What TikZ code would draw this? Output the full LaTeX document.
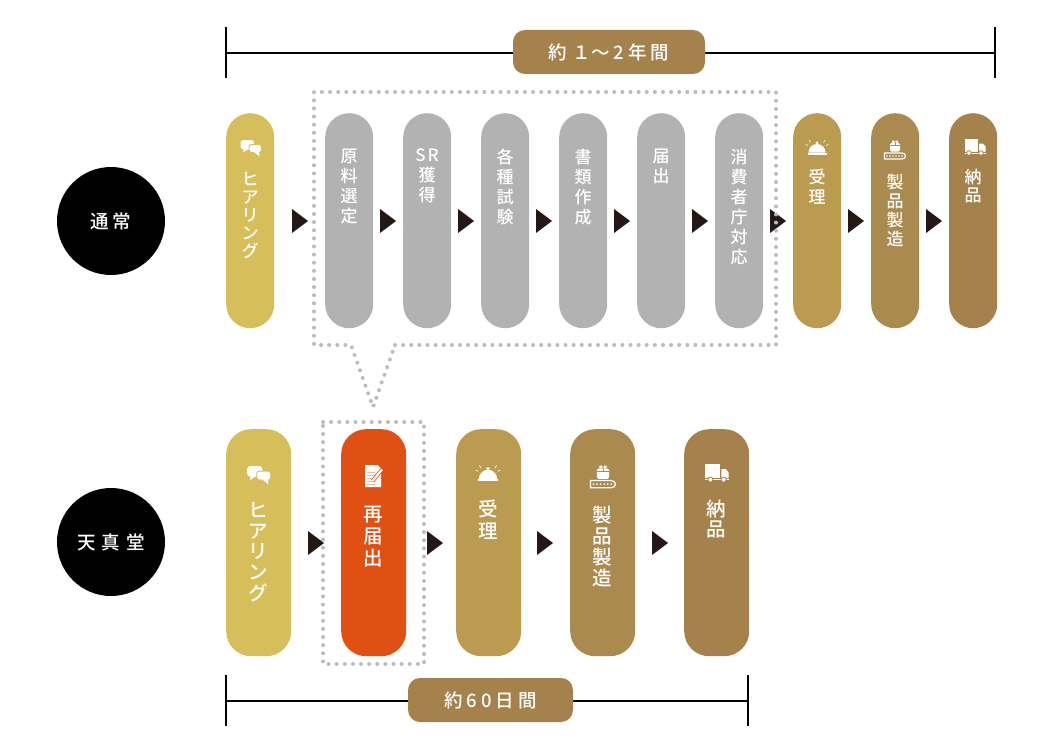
\documentclass[tikz,border=0pt]{standalone}
\usepackage{fontspec}
\newfontfamily\cjk{Noto Sans CJK JP Medium}
\usetikzlibrary{calc}
\definecolor{cyellow}{HTML}{D6BE5A}
\definecolor{cgray}{HTML}{B2B2B2}
\definecolor{caccept}{HTML}{BB9B50}
\definecolor{cmake}{HTML}{AA8A4E}
\definecolor{cdeliv}{HTML}{A5824C}
\definecolor{corange}{HTML}{E05012}
\definecolor{cdot}{HTML}{BCBCBC}
\definecolor{carrow}{HTML}{231815}
\definecolor{cnote}{HTML}{F6B99C}
\tikzset{
 pill/.style={rectangle,inner sep=0pt,anchor=north west,draw=none},
 toppill/.style={pill,minimum width=48pt,minimum height=215pt,rounded corners=24pt},
 botpill/.style={pill,minimum width=65pt,minimum height=227pt,rounded corners=25pt},
 toptext/.style={text=white,inner sep=0pt,anchor=north,align=center,font=\cjk\fontsize{17}{#1}\selectfont},
 bottext/.style={text=white,inner sep=0pt,anchor=north,align=center,font=\cjk\fontsize{19.5}{#1}\selectfont},
 arrowtri/.style={fill=carrow,draw=none},
 dotline/.style={draw=cdot,line width=4pt,line cap=round,dash pattern=on 0pt off 8.12pt},
 barline/.style={draw=black,line width=2.8pt},
 tagbox/.style={fill=cdeliv,rounded corners=12pt,inner sep=0pt,text=white,font=\cjk\fontsize{18.5}{20}\selectfont},
 circ/.style={circle,fill=black,minimum size=108pt,inner sep=0pt,text=white,font=\cjk\fontsize{18.5}{20}\selectfont},
}
\newcommand{\tri}[2]{\fill[arrowtri] (#1,#2-12) -- (#1+16,#2) -- (#1,#2+12) -- cycle;}
\newcommand{\spc}[1]{\hspace{#1pt}}
\newcommand{\iconchat}[4]{\begin{scope}[shift={(#1,#2)},scale=#3]
 \fill[white,rounded corners=3pt] (-10.5,-8) rectangle (3,1.5);
 \fill[white] (-7,0) -- (-8,4.5) -- (-2.5,1) -- cycle;
 \fill[white,draw=#4,line width=.9pt,rounded corners=2.5pt] (-2,-3.5) rectangle (10.5,4.5);
 \fill[white] (3,4) -- (8.5,8.5) -- (8,3.5) -- cycle;
\end{scope}}
\newcommand{\iconbell}[3]{\begin{scope}[shift={(#1,#2)},scale=#3]
 \fill[white] (-8.5,4.5) arc[start angle=180,end angle=360,radius=8.5] -- cycle;
 \fill[white] (0,-5) circle (1.6);
 \fill[white] (-9.5,4.8) rectangle (9.5,7);
 \draw[white,line width=.6pt] (-8,-8) -- (-6.5,-5.5) (8,-8) -- (6.5,-5.5) (-11.5,-3.5) -- (-9,-2.5) (11.5,-3.5) -- (9,-2.5) ;
\end{scope}}
\newcommand{\iconbelt}[4]{\begin{scope}[shift={(#1,#2)},scale=#3]
 \fill[white,rounded corners=1.5pt] (-5.2,-7) rectangle (5.2,1.5);
 \draw[#4,line width=.6pt] (-5.2,-5) -- (5.2,-5) (0,-7) -- (0,-5);
 \fill[white] (-3,-9.5) rectangle (-.5,-7) (.5,-9.5) rectangle (3,-7);
 \draw[white,line width=1.2pt] (-10.5,3) -- (7,3) .. controls (11.5,3) and (11.5,9) .. (7,9) -- (-10.5,9) -- cycle;
 \foreach \q in {-8,-5,-2,1,4,7} \fill[white] (\q,6) circle (.8);
\end{scope}}
\newcommand{\icontruck}[4]{\begin{scope}[shift={(#1,#2)},scale=#3]
 \fill[white] (-10.5,-8) rectangle (2.8,4.8);
 \fill[white] (4,-3.5) -- (8,-3.5) -- (10.5,-.5) -- (10.5,4.8) -- (4,4.8) -- cycle;
 \draw[white,line width=.7pt] (-10.5,6.2) -- (10.5,6.2);
 \fill[white,draw=#4,line width=.8pt] (-6,6) circle (2.3) (6,6) circle (2.3);
\end{scope}}
\newcommand{\iconnote}[4]{\begin{scope}[shift={(#1,#2)},scale=#3]
 \fill[white] (-8,-11) -- (4.5,-11) -- (8,-7.5) -- (8,11) -- (-8,11) -- cycle;
 \foreach \q in {-4,-1,2,5,8} \draw[cnote,line width=1pt] (-6,\q) -- (1.5,\q);
 \draw[#4,line width=3.8pt] (9,-6.5) -- (-.5,5);
 \draw[white,line width=2.2pt] (9,-6.5) -- (-.5,5);
\end{scope}}
\begin{document}
\begin{tikzpicture}[x=1pt,y=-1pt]
\useasboundingbox (0,0) rectangle (1061,752);
\fill[white] (0,0) rectangle (1061,752);
% top bar
\coordinate (tl1) at (226,27); \coordinate (tl2) at (226,78);
\coordinate (tr1) at (995,27); \coordinate (tr2) at (995,78);
\coordinate (tl) at (226,53); \coordinate (tr) at (995,53);
\draw[barline,line width=1.8pt] (tl1) -- (tl2);
\draw[barline,line width=1.8pt] (tr1) -- (tr2);
\draw[barline] (tl) -- (tr);
\node[tagbox,minimum width=192pt,minimum height=44pt] (toptag) at (609,52) {約\spc{5}１\spc{1}〜\spc{3}2\spc{4}年\spc{4}間};
% circles
\node[circ] (c1) at (111,221) {通\spc{4}常};
\node[circ] (c2) at (111,542) {天\spc{6}真\spc{6}堂};
% top pills
\node[toppill,fill=cyellow] (a1) at (226,113) {};
\node[toppill,fill=cgray] (a2) at (325,113) {};
\node[toppill,fill=cgray] (a3) at (403,113) {};
\node[toppill,fill=cgray] (a4) at (481,113) {};
\node[toppill,fill=cgray] (a5) at (559,113) {};
\node[toppill,fill=cgray] (a6) at (637,113) {};
\node[toppill,fill=cgray] (a7) at (715,113) {};
\node[toppill,fill=caccept] (a8) at (793,113) {};
\node[toppill,fill=cmake] (a9) at (871,113) {};
\node[toppill,fill=cdeliv] (a10) at (949,113) {};
\node[toptext=18] (ta1) at (250,172) {ヒ\\ア\\リ\\ン\\グ};
\node[toptext=20] (ta2) at (349,149) {原\\料\\選\\定};
\node[toptext=20] (ta3) at (427,149) {S\spc{2}R\\獲\\得};
\node[toptext=20] (ta4) at (505,149) {各\\種\\試\\験};
\node[toptext=20] (ta5) at (583,149) {書\\類\\作\\成};
\node[toptext=20] (ta6) at (661,149) {届\\出};
\node[toptext=20] (ta7) at (739,149) {消\\費\\者\\庁\\対\\応};
\node[toptext=20] (ta8) at (817,169) {受\\理};
\node[toptext=19] (ta9) at (895,174) {製\\品\\製\\造};
\node[toptext=18] (ta10) at (973,169) {納\\品};
\iconchat{251}{148}{1}{cyellow}
\iconbell{817}{148}{1}
\iconbelt{895}{150}{1}{cmake}
\icontruck{975}{147}{1}{cdeliv}
% top arrows
\foreach \q in {292,380,458,536,614,692,770,848,926} {\tri{\q}{221}}
% callout
\draw[dotline] (395,345) -- (776,345) -- (776,92) -- (314,92) -- (314,345) -- (351,345) -- (373,407) -- (395,345);
% bottom pills
\node[botpill,fill=cyellow] (b1) at (226,429) {};
\node[botpill,fill=corange] (b2) at (341,429) {};
\node[botpill,fill=caccept] (b3) at (456,429) {};
\node[botpill,fill=cmake] (b4) at (570,429) {};
\node[botpill,fill=cdeliv] (b5) at (684,429) {};
\node[bottext=20.7] (tb1) at (258.5,502) {ヒ\\ア\\リ\\ン\\グ};
\node[bottext=22] (tb2) at (373.5,506) {再\\届\\出};
\node[bottext=21.5] (tb3) at (488.5,500) {受\\理};
\node[bottext=21] (tb4) at (602.5,506) {製\\品\\製\\造};
\node[bottext=20] (tb5) at (716.5,500) {納\\品};
\iconchat{259}{475}{1.12}{cyellow}
\iconnote{373}{476}{1}{corange}
\iconbell{488}{474}{1.07}
\iconbelt{603}{477}{1.19}{cmake}
\icontruck{717}{473}{1.1}{cdeliv}
\foreach \q in {308,427,537,652} {\tri{\q}{543}}
\draw[dotline] (323,422) -- (424,422) -- (424,664) -- (323,664) -- (323,422);
% bottom bar
\coordinate (bl1) at (226,675); \coordinate (bl2) at (226,726);
\coordinate (br1) at (748,675); \coordinate (br2) at (748,726);
\coordinate (bl) at (226,701); \coordinate (br) at (748,701);
\draw[barline,line width=1.8pt] (bl1) -- (bl2);
\draw[barline,line width=1.8pt] (br1) -- (br2);
\draw[barline] (bl) -- (br);
\node[tagbox,minimum width=165pt,minimum height=44pt] (bottag) at (490.5,700) {約\spc{4}6\spc{4}0\spc{4}日\spc{4}間};
\end{tikzpicture}
\end{document}
